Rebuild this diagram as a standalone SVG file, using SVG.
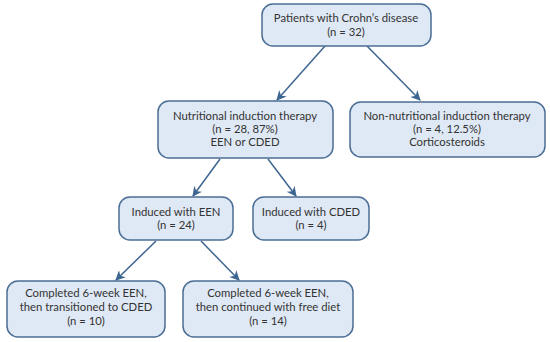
<svg xmlns="http://www.w3.org/2000/svg" width="550" height="342" viewBox="0 0 550 342">
<defs>
<marker id="ah" viewBox="0 0 10 10" refX="9" refY="5" markerWidth="11" markerHeight="10" orient="auto" markerUnits="userSpaceOnUse">
<path d="M0,0 L10,5 L0,10 L3,5 Z" fill="#3d6591"/>
</marker>
<style>
.box{fill:#dfe9f5;stroke:#4b6e95;stroke-width:1.5}
.t{font-family:Lato,"Liberation Sans",sans-serif;font-size:11.3px;fill:#333;text-anchor:middle}
.c{stroke:#3d6591;stroke-width:1.5;fill:none}
</style>
</defs>
<rect width="550" height="342" fill="#fff"/>
<g id="connectors">
<line class="c" x1="325" y1="46" x2="277" y2="100" marker-end="url(#ah)"/>
<line class="c" x1="367" y1="46" x2="420" y2="100" marker-end="url(#ah)"/>
<line class="c" x1="220" y1="159" x2="193" y2="196" marker-end="url(#ah)"/>
<line class="c" x1="268" y1="159" x2="296" y2="196" marker-end="url(#ah)"/>
<line class="c" x1="156" y1="241" x2="116" y2="280" marker-end="url(#ah)"/>
<line class="c" x1="201" y1="241" x2="239" y2="280" marker-end="url(#ah)"/>
</g>
<g id="n1"><rect class="box" x="262" y="4" width="169" height="42" rx="11"/>
<text class="t" x="346" y="22">Patients with Crohn’s disease</text>
<text class="t" x="346" y="36">(n = 32)</text></g>
<g id="n2"><rect class="box" x="158" y="101" width="175" height="57" rx="11"/>
<text class="t" x="245" y="120">Nutritional induction therapy</text>
<text class="t" x="245" y="133">(n = 28, 87%)</text>
<text class="t" x="245" y="146">EEN or CDED</text></g>
<g id="n3"><rect class="box" x="350" y="102" width="195" height="55" rx="11"/>
<text class="t" x="447" y="120">Non-nutritional induction therapy</text>
<text class="t" x="447" y="133">(n = 4, 12.5%)</text>
<text class="t" x="447" y="146">Corticosteroids</text></g>
<g id="n4"><rect class="box" x="119" y="197" width="114" height="43" rx="11"/>
<text class="t" x="176" y="216">Induced with EEN</text>
<text class="t" x="176" y="229">(n = 24)</text></g>
<g id="n5"><rect class="box" x="253" y="197" width="116" height="43" rx="11"/>
<text class="t" x="311" y="216">Induced with CDED</text>
<text class="t" x="311" y="229">(n = 4)</text></g>
<g id="n6"><rect class="box" x="7" y="281" width="158" height="56" rx="11"/>
<text class="t" x="86" y="297">Completed 6-week EEN,</text>
<text class="t" x="86" y="311">then transitioned to CDED</text>
<text class="t" x="86" y="325">(n = 10)</text></g>
<g id="n7"><rect class="box" x="183" y="281" width="170" height="56" rx="11"/>
<text class="t" x="268" y="297">Completed 6-week EEN,</text>
<text class="t" x="268" y="311">then continued with free diet</text>
<text class="t" x="268" y="325">(n = 14)</text></g>
</svg>
